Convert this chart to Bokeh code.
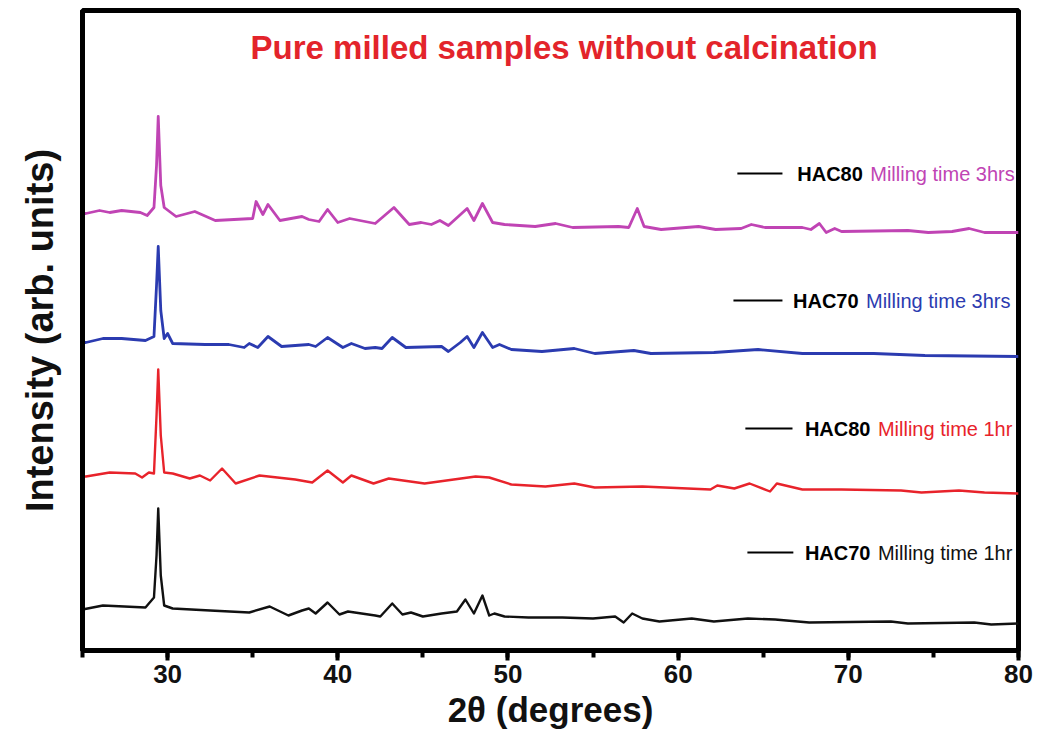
from bokeh.plotting import figure
from bokeh.models import Range1d, SingleIntervalTicker, FixedTicker
from bokeh.core.properties import value
from bokeh.embed import file_html
from bokeh.resources import INLINE

# ---------------- data (y in arb. units incl. stacking offset) -------------
x_hac70_1h = [25.0, 25.3, 26.2, 28.7, 29.2, 29.35, 29.45, 29.6, 29.8, 30.3, 32.5, 34.8, 36.0, 37.1, 37.9,
              38.3, 38.7, 39.4, 40.1, 40.6, 42.2, 42.5, 43.2, 43.8, 44.3, 45.0, 46.1, 47.0, 47.5, 48.0,
              48.5, 48.9, 49.2, 49.8, 51.2, 53.2, 55.0, 56.3, 56.8, 57.3, 57.9, 58.9, 60.8, 62.1, 64.1,
              65.7, 67.7, 72.5, 73.5, 77.4, 78.4, 80.0]
y_hac70_1h = [41, 42, 45, 43, 53, 95, 142, 75, 45, 42, 40, 38, 44, 35, 40,
              42, 37, 48, 36, 39, 35, 34, 47, 36, 38, 34, 37, 39, 51, 37,
              55, 35, 37, 34, 33, 33, 32, 34, 28, 37, 32, 29, 32, 29, 32,
              31, 28, 29, 27, 28, 26, 27]

x_hac80_1h = [25.0, 25.2, 26.6, 28.1, 28.5, 28.9, 29.2, 29.35, 29.45, 29.6, 29.8, 30.3, 31.3, 31.9,
              32.5, 33.2, 34.0, 35.4, 37.5, 38.5, 39.4, 40.3, 40.8, 42.1, 43.0, 45.1, 48.1, 48.9, 50.2,
              52.2, 53.9, 55.1, 57.9, 61.9, 62.3, 63.3, 64.2, 65.4, 65.8, 67.3, 69.6, 73.1, 74.3, 76.5,
              78.0, 80.0]
y_hac80_1h = [174, 174, 178, 177, 173, 178, 177, 235, 281, 215, 178, 177, 172, 175,
              170, 182, 167, 175, 171, 168, 180, 168, 175, 167, 172, 167, 174, 173, 166,
              164, 167, 163, 164, 161, 165, 162, 167, 159, 167, 161, 161, 160, 158, 160,
              158, 157]

x_hac70_3h = [25.0, 25.2, 26.2, 27.3, 28.7, 29.2, 29.35, 29.45, 29.6, 29.8, 30.0, 30.3, 32.2, 33.6,
              34.5, 34.8, 35.3, 35.9, 36.7, 38.3, 38.7, 39.4, 40.3, 40.8, 41.6, 42.2, 42.6, 43.2, 44.0,
              46.1, 46.5, 47.2, 47.6, 48.0, 48.5, 49.1, 49.5, 50.2, 52.0, 53.9, 55.1, 57.4, 58.4, 62.1,
              64.7, 67.3, 71.5, 74.5, 80.0]
y_hac70_3h = [308, 308, 312, 312, 310, 314, 365, 404, 340, 312, 317, 307, 306, 306,
              303, 307, 303, 314, 304, 306, 304, 313, 303, 307, 302, 303, 302, 313, 303,
              304, 299, 308, 314, 303, 318, 303, 306, 301, 299, 302, 297, 300, 297, 298,
              301, 297, 297, 295, 294]

x_hac80_3h = [25.0, 25.2, 26.0, 26.6, 27.3, 28.4, 28.8, 29.2, 29.35, 29.45, 29.6, 29.8, 30.5, 31.6,
              32.8, 35.0, 35.2, 35.6, 35.9, 36.6, 37.9, 38.3, 38.9, 39.4, 40.0, 40.7, 42.2, 43.3, 44.2,
              44.9, 45.5, 46.0, 46.5, 47.6, 48.0, 48.5, 49.1, 49.8, 51.6, 52.8, 53.8, 56.5, 57.1, 57.6,
              58.0, 59.0, 61.2, 62.2, 63.7, 64.3, 65.1, 67.3, 67.8, 68.3, 68.7, 69.2, 69.6, 73.5, 74.7,
              76.1, 77.1, 78.0, 80.0]
y_hac80_3h = [437, 437, 440, 438, 440, 438, 435, 443, 485, 534, 465, 443, 434, 439,
              430, 432, 449, 436, 446, 430, 434, 431, 429, 441, 428, 432, 427, 443, 426,
              428, 426, 430, 425, 442, 430, 447, 428, 426, 424, 427, 423, 424, 423, 442,
              424, 421, 424, 421, 422, 426, 423, 423, 421, 427, 418, 422, 419, 420, 418,
              419, 422, 418, 418]

sample_names = ["HAC70", "HAC80", "HAC70", "HAC80"]
sample_times = ["Milling time 1hr", "Milling time 1hr", "Milling time 3hrs", "Milling time 3hrs"]

title_text = "Pure milled samples without calcination"
x_label = "2\u03b8 (degrees)"
y_label = "Intensity (arb. units)"

# ---------------- styling / layout -------------
colors = ["#111111", "#e8232b", "#2b3bb0", "#c044b4"]
widths = [2.4, 2.4, 2.8, 2.8]
# legend-row anchors (x_line0, x_line1, x_text, y) in data units
legend_pos = [(64.07, 66.77, 67.45, 98),
              (63.95, 66.72, 67.45, 222),
              (63.25, 66.13, 66.75, 350),
              (63.48, 66.13, 67.0, 477)]

AX_FONT = "Liberation Sans"
TXT_FONT = "Liberation Sans"

p = figure(width=1041, height=749, x_range=Range1d(25, 80), y_range=Range1d(0, 640),
           output_backend="svg", toolbar_location=None,
           min_border_left=82, min_border_right=23, min_border_top=10, min_border_bottom=99)
p.background_fill_color = "white"
p.border_fill_color = "white"
p.xgrid.visible = False
p.ygrid.visible = False
p.outline_line_color = "black"
p.outline_line_width = 5

series = [(x_hac70_1h, y_hac70_1h), (x_hac80_1h, y_hac80_1h),
          (x_hac70_3h, y_hac70_3h), (x_hac80_3h, y_hac80_3h)]
for (xs, ys), c, w in zip(series, colors, widths):
    p.line(xs, ys, line_color=c, line_width=w, line_join="round")

# legend-like labels
for (x0, x1, xt, yy), name, t, c in zip(legend_pos, sample_names, sample_times, colors):
    p.segment(x0=[x0], y0=[yy], x1=[x1], y1=[yy], line_color="black", line_width=2.2)
    p.text(x=[xt], y=[yy], text=[name], text_font=value(TXT_FONT), text_font_style="bold",
           text_font_size="20px", text_color="black", text_baseline="middle", text_align="left")
    p.text(x=[xt], y=[yy], text=[t], x_offset=73, text_font=value(TXT_FONT),
           text_font_size="20px", text_color=c, text_baseline="middle", text_align="left")

# title inside the frame
p.text(x=[53.3], y=[603], text=[title_text], text_font=value(TXT_FONT), text_font_style="bold",
       text_font_size="33px", text_color="#e3242b", text_align="center", text_baseline="middle")

# x axis
xa = p.xaxis[0]
xa.ticker = SingleIntervalTicker(interval=10, num_minor_ticks=2)
xa.axis_line_width = 5
xa.axis_line_color = "black"
xa.major_tick_in = 0
xa.major_tick_out = 10
xa.major_tick_line_width = 4
xa.minor_tick_in = 0
xa.minor_tick_out = 7
xa.minor_tick_line_width = 4
xa.major_label_text_font = AX_FONT
xa.major_label_text_font_style = "bold"
xa.major_label_text_font_size = "26px"
xa.major_label_text_color = "#111111"
xa.major_label_standoff = 4
xa.axis_label = x_label
xa.axis_label_text_font = AX_FONT
xa.axis_label_text_font_style = "bold"
xa.axis_label_text_font_size = "35px"
xa.axis_label_text_color = "#111111"
xa.axis_label_standoff = 4

# y axis
ya = p.yaxis[0]
ya.ticker = FixedTicker(ticks=[])
ya.axis_line_width = 5
ya.axis_line_color = "black"
ya.major_tick_line_color = None
ya.minor_tick_line_color = None
ya.axis_label = y_label
ya.axis_label_text_font = AX_FONT
ya.axis_label_text_font_style = "bold"
ya.axis_label_text_font_size = "38px"
ya.axis_label_text_color = "#111111"
ya.axis_label_standoff = 22

open("out.html", "w").write(file_html(p, INLINE))
